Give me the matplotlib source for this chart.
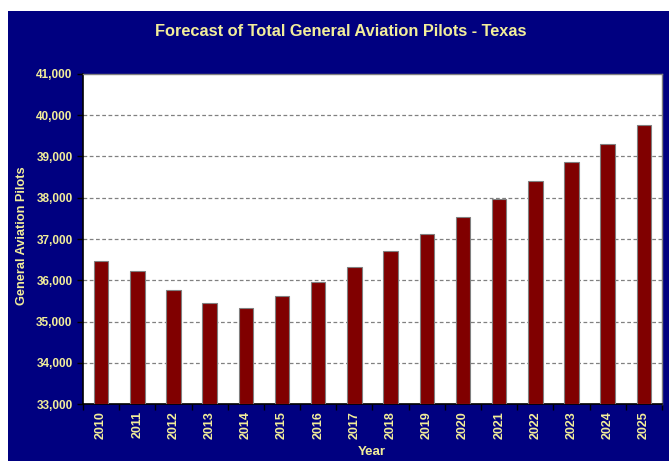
import matplotlib
matplotlib.use("Agg")
import matplotlib.pyplot as plt
from matplotlib.patches import Rectangle
from matplotlib.ticker import FuncFormatter, FixedLocator
import numpy as np

plt.rcParams['font.family'] = ['Liberation Sans', 'DejaVu Sans']

## data
years = ['2010', '2011', '2012', '2013', '2014', '2015', '2016', '2017',
         '2018', '2019', '2020', '2021', '2022', '2023', '2024', '2025']
pilots = [36470, 36228, 35762, 35447, 35325, 35624, 35956, 36333,
          36714, 37124, 37544, 37978, 38413, 38859, 39308, 39769]
y_ticks = [33000, 34000, 35000, 36000, 37000, 38000, 39000, 40000, 41000]

navy = '#000080'
txt = '#F2EE9A'

fig = plt.figure(figsize=(6.69, 4.61), dpi=100)
fig.patch.set_facecolor('white')
# navy panel, small white margin on top and left
fig.patches.append(Rectangle((8 / 669, 0), 1, 450 / 461, transform=fig.transFigure,
                             facecolor=navy, edgecolor='none', zorder=-5))

ax = fig.add_axes([83 / 669, 1 - 404 / 461, 579 / 669, 330 / 461])
ax.set_facecolor('white')

x = np.arange(len(years))
ax.bar(x, [p - 33000 for p in pilots], bottom=33000, width=0.4,
       color='#800000', edgecolor='#808080', linewidth=0.8, zorder=3)

ax.set_xlim(-0.5, len(years) - 0.5)
ax.set_ylim(33000, 41000)
ax.set_yticks(y_ticks)
ax.yaxis.set_major_formatter(FuncFormatter(lambda v, p: f'{int(v):,}'))
ax.set_xticks(x)
ax.set_xticklabels(years, rotation=90)
ax.xaxis.set_minor_locator(FixedLocator(np.arange(-0.5, len(years), 1)))

for v in y_ticks[1:-1]:
    ax.axhline(v, color='#808080', linestyle=(0, (3, 2)), linewidth=0.9, zorder=1)

ax.tick_params(axis='y', colors='black', labelcolor=txt, labelsize=8.5,
               direction='out', length=4, width=1)
ax.tick_params(axis='x', which='major', length=0, labelcolor=txt, labelsize=9, pad=5)
ax.tick_params(axis='x', which='minor', length=4, width=1, color='black')
for lbl in ax.get_yticklabels() + ax.get_xticklabels():
    lbl.set_fontweight('bold')

for s in ['left', 'bottom']:
    ax.spines[s].set_color('black')
    ax.spines[s].set_linewidth(1.2)
for s in ['top', 'right']:
    ax.spines[s].set_color('#808080')
    ax.spines[s].set_linewidth(1)

fig.text(0.51, 1 - 32 / 461, 'Forecast of Total General Aviation Pilots - Texas',
         ha='center', va='center', color=txt, fontsize=11.8, fontweight='bold')
fig.text(22 / 669, 1 - 236 / 461, 'General Aviation Pilots', rotation=90,
         ha='center', va='center', color=txt, fontsize=9.2, fontweight='bold')
fig.text(372 / 669, 1 - 452 / 461, 'Year', ha='center', va='center',
         color=txt, fontsize=9.5, fontweight='bold')

fig.savefig('out.png', dpi=100, facecolor=fig.get_facecolor())
